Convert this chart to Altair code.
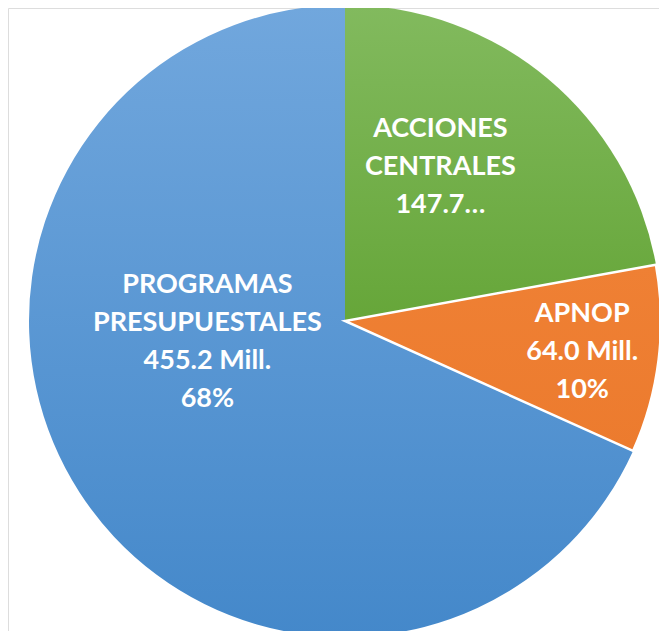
import altair as alt
import pandas as pd

names = ["ACCIONES CENTRALES", "APNOP", "PROGRAMAS PRESUPUESTALES"]
values = [147.7, 64.0, 455.2]
order = [1, 2, 3]
labels = [
    "ACCIONES\nCENTRALES\n147.7…",
    "APNOP\n64.0 Mill.\n10%",
    "PROGRAMAS\nPRESUPUESTALES\n455.2 Mill.\n68%",
]

df = pd.DataFrame({"name": names, "value": values, "order": order, "label": labels})
total = sum(values)

CX, CY, R = 337, 313, 316

base = (
    alt.Chart(df)
    .transform_window(cum="sum(value)", sort=[alt.SortField("order")])
    .transform_calculate(start="datum.cum - datum.value", mid="datum.cum - datum.value / 2")
)

theta_scale = alt.Scale(domain=[0, total], range=[0, 6.283185307179586])


def grad(top, bottom):
    return alt.LinearGradient(
        gradient="linear",
        stops=[alt.GradientStop(offset=0, color=top), alt.GradientStop(offset=1, color=bottom)],
        x1=0, x2=0, y1=0, y2=1,
    )


fills = {
    "PROGRAMAS PRESUPUESTALES": (grad("#71a7dd", "#4488ca"), None, 0),
    "ACCIONES CENTRALES": (grad("#82ba5e", "#66a639"), None, 0),
    "APNOP": (grad("#ef8034", "#ec7b2e"), "white", 2.5),
}

layers = []
for nm in ["PROGRAMAS PRESUPUESTALES", "ACCIONES CENTRALES", "APNOP"]:
    fill, stroke, sw = fills[nm]
    kw = dict(fill=fill, outerRadius=R)
    if stroke:
        kw.update(stroke=stroke, strokeWidth=sw, strokeJoin="miter")
    layers.append(
        base.transform_filter(alt.datum.name == nm)
        .mark_arc(**kw)
        .encode(
            theta=alt.Theta("start:Q", scale=theta_scale),
            theta2="cum:Q",
            x=alt.value(CX),
            y=alt.value(CY),
        )
    )

label_pos = {
    "ACCIONES CENTRALES": (180, -20, -54),
    "APNOP": (239, 0, -36),
    "PROGRAMAS PRESUPUESTALES": (140, -20, -112),
}
for nm, (rad, dx, dy) in label_pos.items():
    layers.append(
        base.transform_filter(alt.datum.name == nm)
        .mark_text(
            radius=rad, dx=dx, dy=dy, font="Lato", fontWeight="bold", fontSize=27,
            color="white", lineBreak="\n", lineHeight=38, align="center", baseline="middle",
        )
        .encode(
            theta=alt.Theta("mid:Q", scale=theta_scale),
            text="label:N",
            x=alt.value(CX),
            y=alt.value(CY),
        )
    )

chart = (
    alt.layer(*layers)
    .properties(width=651, height=623, padding=0, autosize=alt.AutoSizeParams(type="none"))
    .configure_view(stroke=None, strokeWidth=0)
    .configure(background="transparent")
)

chart.save("out.html", embed_options={"renderer": "svg", "actions": False})
